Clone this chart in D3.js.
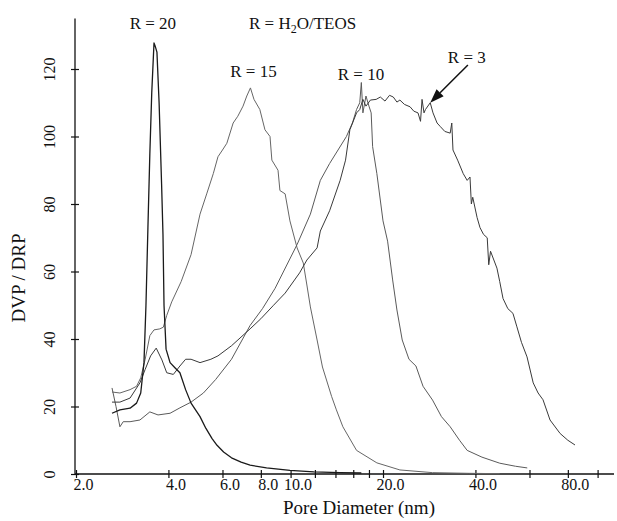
<!DOCTYPE html>
<html>
<head>
<meta charset="utf-8">
<script src="https://cdn.jsdelivr.net/npm/d3@7/dist/d3.min.js"></script>
<style>
    body { margin: 0; background: #fff; }
    svg { display: block; }
    text { font-family: "Liberation Serif", "DejaVu Serif", serif; fill: #111; }
</style>
</head>
<body>
<div id="chart"></div>
<script>
// pore diameter (nm), DVP/DRP
const r20 = [
    [2.62, 18], [2.78, 19], [3.0, 19.5], [3.15, 21], [3.25, 24], [3.33, 33], [3.38, 50],
    [3.43, 73], [3.48, 95], [3.53, 113], [3.59, 127.7], [3.63, 126.5], [3.67, 125],
    [3.73, 110], [3.80, 86], [3.84, 71], [3.87, 50], [3.93, 37], [4.05, 33], [4.20, 31.5],
    [4.36, 30], [4.55, 25], [4.74, 21], [5.07, 17], [5.30, 13.5], [5.55, 10.5], [5.76, 8.5],
    [6.05, 6.5], [6.42, 4.8], [6.90, 3.5], [7.38, 2.6], [8.35, 1.8], [9.95, 1.1], [11.9, 0.6],
    [14.5, 0.4], [17, 0.3]
];
const r15 = [
    [2.62, 24.3], [2.78, 24], [3.0, 25], [3.15, 26], [3.25, 28.5], [3.36, 34], [3.48, 41],
    [3.59, 42.7], [3.75, 43], [3.85, 43.5], [3.95, 47], [4.1, 51], [4.4, 57], [4.74, 65],
    [5.07, 77], [5.33, 83], [5.6, 89], [5.8, 94], [6.0, 96], [6.2, 98], [6.5, 104], [6.73, 106],
    [7.0, 109], [7.2, 112], [7.4, 114.4], [7.6, 111], [7.94, 108], [8.25, 102], [8.57, 100],
    [8.69, 93], [9.1, 90], [9.23, 84], [9.6, 83], [9.95, 75], [10.5, 67], [11.0, 62.5],
    [11.3, 56], [11.6, 49.5], [12.2, 39.7], [12.7, 31.7], [13.6, 23], [14.1, 19], [14.8, 14],
    [16.4, 7], [19.1, 3.3], [22.7, 1.2], [29, 0.4], [38, 0.2], [48, 0.1]
];
const r10 = [
    [2.62, 25.5], [2.70, 20], [2.78, 14], [2.85, 15.5], [3.0, 15.5], [3.23, 16], [3.48, 18.4],
    [3.70, 17.5], [4.05, 18], [4.36, 19.6], [4.74, 21.3], [5.2, 24], [5.7, 28], [6.42, 34],
    [7.38, 44], [8.1, 49], [8.9, 55], [10.5, 68], [11.6, 77], [12.5, 87], [13.4, 92],
    [15.2, 100], [15.9, 104], [16.4, 108], [16.8, 110], [17.0, 116], [17.2, 107], [17.6, 112],
    [18.0, 109], [18.3, 107], [18.5, 97], [19.1, 89], [20.0, 75], [20.7, 69], [21.5, 57.5],
    [22.2, 48.6], [23.1, 39.7], [24.3, 34], [25.6, 32], [27, 26], [29, 21.9], [31, 17],
    [33.1, 14], [35.5, 10], [37.6, 7], [42, 5], [48, 3.2], [54, 2.3], [59, 1.8]
];
const r3 = [
    [2.62, 21.3], [2.78, 21.3], [3.0, 22.5], [3.23, 27], [3.36, 31], [3.5, 35], [3.65, 37.3],
    [3.81, 33.8], [3.95, 30], [4.15, 29.5], [4.36, 32], [4.55, 34], [4.74, 34], [5.07, 33],
    [5.5, 34], [5.8, 35], [6.42, 38], [7.38, 43], [8.0, 46], [8.8, 50], [9.6, 53.6],
    [10.7, 59.6], [11.3, 63.4], [12.2, 67], [12.5, 72], [13.4, 78], [14.5, 87], [15.1, 93],
    [15.6, 102], [16.4, 107], [16.8, 108], [17.2, 111], [17.6, 109], [18.2, 110.8], [19.0, 111],
    [19.6, 111.7], [20.3, 110.5], [21.0, 112.2], [21.6, 111.7], [22.2, 110.2], [22.7, 110.8],
    [23.5, 109.5], [24.5, 108.8], [25.2, 107.5], [26.0, 107], [26.5, 104.5], [26.8, 111],
    [27.2, 107], [27.5, 108], [28.5, 110], [29.1, 107], [30.0, 104], [30.7, 103], [31.8, 101.5],
    [33.1, 101], [33.5, 104], [33.8, 96], [35, 93], [36.5, 89], [37.6, 87], [38.4, 88],
    [38.8, 80], [39.2, 82], [40.5, 76], [41.4, 73], [42.5, 71], [43.7, 70], [44.2, 62],
    [44.8, 66], [47, 61], [48, 57], [49.2, 52], [51, 49], [53, 47.6], [54.6, 43.6], [56.5, 39],
    [58.9, 34.7], [61.7, 27], [64, 24], [66.4, 22], [70, 16], [75.5, 12], [80, 10], [84.4, 8.6]
];

const xTicks = [2, 4, 6, 8, 10, 12, 14, 16, 18, 20, 40, 60, 80, 100];
const xLabeled = [2, 4, 6, 8, 10, 20, 40, 80];
const yTicks = [0, 20, 40, 60, 80, 100, 120];

// curve labels: [text, diameter, value, anchor]
const curveLabels = [
    ["R = 20", 3.56, 131.8, "middle"],
    ["R = 15", 7.57, 117.6, "middle"],
    ["R = 10", 16.95, 116.7, "middle"],
    ["R = 3", 37.5, 121.8, "middle"]
];

const width = 617, height = 521;
const svg = d3.select("#chart").append("svg")
    .attr("width", width)
    .attr("height", height);

const x = d3.scaleLog().domain([2, 100]).range([76, 597.6]);
const y = d3.scaleLinear().domain([0, 120]).range([474, 69]);

// x axis
const xAxis = svg.append("g")
    .attr("transform", `translate(0,${y(0)})`)
    .call(d3.axisBottom(x)
        .tickValues(xTicks)
        .tickSize(4)
        .tickFormat(d => xLabeled.includes(d) ? d.toFixed(1) : ""));
xAxis.select(".domain").remove();
xAxis.selectAll(".tick line").attr("y1", -4).attr("y2", 4).attr("stroke", "#111").attr("stroke-width", 1.2);
xAxis.selectAll(".tick text")
    .attr("y", 0).attr("dy", 16).attr("dx", 7)
    .style("font-size", "16px").style("font-family", "Liberation Serif, serif");
xAxis.append("line")
    .attr("x1", 75).attr("x2", 614)
    .attr("stroke", "#111").attr("stroke-width", 1.3);

// y axis
const yAxis = svg.append("g")
    .attr("transform", `translate(75,0)`)
    .call(d3.axisLeft(y).tickValues(yTicks).tickSize(4));
yAxis.select(".domain").remove();
yAxis.selectAll(".tick line").attr("x1", -4).attr("x2", 4).attr("stroke", "#111").attr("stroke-width", 1.2);
yAxis.selectAll(".tick text")
    .attr("transform", "rotate(-90)")
    .attr("x", 0).attr("y", -20).attr("dy", 0)
    .style("text-anchor", "middle")
    .style("font-size", "16px").style("font-family", "Liberation Serif, serif");
yAxis.append("line")
    .attr("y1", y(0)).attr("y2", y(135))
    .attr("stroke", "#111").attr("stroke-width", 1.3);

// curves
const line = d3.line().x(d => x(d[0])).y(d => y(d[1]));
const series = [
    { data: r15, color: "#666", w: 1 },
    { data: r10, color: "#5a5a5a", w: 1 },
    { data: r3, color: "#3a3a3a", w: 1 },
    { data: r20, color: "#1a1a1a", w: 1.3 }
];
series.forEach(s => {
    svg.append("path")
        .datum(s.data)
        .attr("d", line)
        .attr("fill", "none")
        .attr("stroke", s.color)
        .attr("stroke-width", s.w)
        .attr("stroke-linejoin", "round");
});

// labels
curveLabels.forEach(l => {
    svg.append("text")
        .attr("x", x(l[1]))
        .attr("y", y(l[2]))
        .attr("text-anchor", l[3])
        .style("font-size", "17px")
        .text(l[0]);
});

const ratio = svg.append("text")
    .attr("x", x(7.32))
    .attr("y", y(131.8))
    .style("font-size", "17px");
ratio.append("tspan").text("R = H");
ratio.append("tspan").attr("dy", 4).style("font-size", "12px").text("2");
ratio.append("tspan").attr("dy", -4).text("O/TEOS");

// arrow to R = 3
const tail = [x(37.8), y(121.2)], tip = [x(28.5), y(110)];
const ang = Math.atan2(tip[1] - tail[1], tip[0] - tail[0]);
const hl = 14, hw = 5;
const base = [tip[0] - hl * Math.cos(ang), tip[1] - hl * Math.sin(ang)];
svg.append("line")
    .attr("x1", tail[0]).attr("y1", tail[1])
    .attr("x2", base[0]).attr("y2", base[1])
    .attr("stroke", "#111").attr("stroke-width", 1.5);
svg.append("polygon")
    .attr("points", [
        tip,
        [base[0] + hw * Math.sin(ang), base[1] - hw * Math.cos(ang)],
        [base[0] - hw * Math.sin(ang), base[1] + hw * Math.cos(ang)]
    ].map(p => p.join(",")).join(" "))
    .attr("fill", "#111");

// axis titles
svg.append("text")
    .attr("x", 359).attr("y", 514)
    .attr("text-anchor", "middle")
    .style("font-size", "19px")
    .text("Pore Diameter (nm)");

svg.append("text")
    .attr("transform", "translate(25,278) rotate(-90)")
    .attr("text-anchor", "middle")
    .style("font-size", "19px")
    .text("DVP / DRP");
</script>
</body>
</html>
